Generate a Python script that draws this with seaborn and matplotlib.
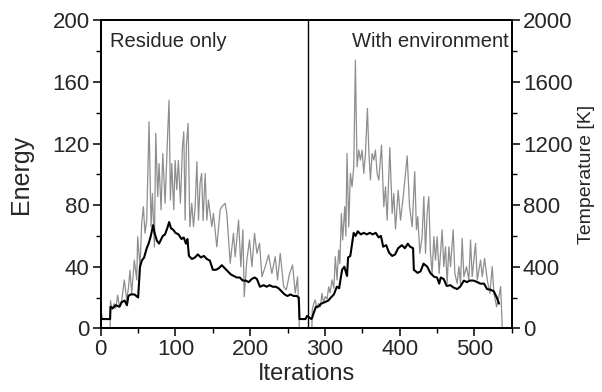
import matplotlib
matplotlib.use("Agg")
import matplotlib.pyplot as plt
from matplotlib.ticker import MultipleLocator
import seaborn as sns

# energy (black line), both runs in one trace
black_iter = [0, 1, 12.5, 13, 16, 20, 25, 28, 32, 35, 37, 40, 45, 50, 52.5, 55, 58, 61.5,
              64, 67, 70, 72, 75, 78, 80, 83, 86, 89, 91.5, 94, 97, 100, 104, 108, 111,
              114, 116, 118, 122, 126, 130, 134, 138, 142, 146, 150, 154, 158, 162, 166,
              170, 174, 178, 182, 186, 190, 194, 198, 202, 206, 209, 213, 218, 222, 226,
              230, 234, 238, 242, 246, 250, 254, 258, 262, 265, 266, 270, 274, 276, 279,
              282, 283, 285, 288, 291, 295, 300, 304.5, 308, 312, 316, 319, 323, 326,
              329.6, 331, 334, 338.5, 341, 344, 348, 352, 356, 360, 364, 368, 372, 375,
              378, 382, 386, 390, 394, 398, 403, 407, 411, 414, 418, 419, 424, 428, 432,
              437, 441, 446, 450, 453, 455, 459, 463, 468, 472, 477, 481, 486, 490, 494,
              499, 504, 508, 513, 517, 522, 526, 530, 533]
black_energy = [11, 6, 6, 14, 13, 15, 14, 17, 18, 15, 21, 22, 22, 20, 40, 44, 46, 52,
                55, 60, 67, 62, 57, 55, 57, 60, 61, 65, 69, 65, 64, 62, 61, 58, 59,
                55, 58, 47, 45, 46, 48, 46, 47, 45, 44, 38, 38, 39, 41, 39,
                37, 35, 34, 33, 33, 31, 31, 30, 32, 33, 32, 27, 28, 27, 28,
                27, 27, 26, 24, 22, 21, 22, 21, 21, 20, 6, 6, 6, 8, 7,
                6, 7, 10, 14, 14, 16, 17, 18, 20, 22, 27, 26, 38, 40,
                34, 46, 47, 62, 60, 63, 61, 62, 61, 62, 61, 62, 59, 60,
                53, 54, 49, 47, 48, 52, 54, 52, 55, 53, 52, 38, 36, 37, 42,
                40, 36, 33.5, 33, 29, 33, 32, 27.5, 28, 26.5, 25.5, 27, 31, 30, 31,
                31, 30, 29, 29, 25.5, 25, 24, 20, 16]

# temperature (grey line), run 1: residue only
grey1_iter = [12.5, 13, 15, 18, 20, 22.6, 25, 28, 31.5, 34.7, 37, 39.1, 41.4, 44.9,
              48.1, 49.4, 52.5, 54.8, 57, 59.2, 61.5, 64.6, 67.3, 69.1, 71.8, 73.6,
              76.2, 78, 80.7, 83, 86.1, 87.9, 89.7, 91.4, 93.2, 95, 97.7, 99.5, 101.7,
              103.9, 106.6, 109.3, 111.1, 112.9, 114.7, 116.9, 119.2, 121.8, 124.1,
              126.3, 128.6, 130.8, 133, 135, 137, 139.7, 142, 144.1, 148.6, 150.8,
              155.3, 159.8, 162, 166.5, 168.7, 173.2, 177.6, 179.9, 184.4, 187.5,
              190.2, 192, 195.5, 199.1, 202.3, 205.8, 209, 212.5, 215.7, 220.1, 224.6,
              229, 233.5, 236.6, 240.2, 244.7, 248.3, 252.7, 256.7, 260.3, 263.4, 265.7]
grey1_temp = [0, 180, 120, 160, 130, 216, 140, 180, 314, 184, 260, 377, 225, 443,
              314, 595, 400, 681, 790, 617, 703, 1342, 660, 876, 529, 1266,
              855, 1070, 769, 1135, 812, 1049, 1288, 1482, 833, 1070, 769, 1090, 900,
              1090, 812, 1178, 1277, 703, 1199, 1331, 660, 812, 660,
              790, 1082, 703, 950, 1006, 700, 1006, 703, 833, 660, 746,
              529, 769, 790, 812, 746, 422, 617, 465, 703, 400,
              639, 205, 443, 574, 400, 617, 487, 552, 335, 400, 476,
              356, 465, 314, 487, 271, 250, 356, 411, 229, 335, 10]

# temperature (grey line), run 2: with environment
grey2_iter = [282.6, 283, 285, 287.1, 289, 291.6, 294, 296, 298, 300.5, 303, 305, 307,
              309.5, 312, 313.9, 316.2, 318.4, 320, 322, 323.8, 326.5, 328, 329.6,
              331.9, 334.1, 336.3, 338.6, 340.8, 343, 345.3, 347.5, 349.7, 352, 354.2,
              356.9, 358.7, 360.9, 363.2, 365.4, 367.6, 369.9, 372.1, 375.7, 378.8,
              381.1, 383.3, 386.9, 390, 392.2, 394.5, 398.1, 401.2, 404.3, 407.9,
              410.1, 413.3, 416.8, 420.2, 422.5, 424.3, 427, 430.1, 432.4, 434.6,
              436.8, 439, 441.3, 443.5, 445.8, 448, 450.2, 452.9, 456.9, 459.1, 461.4,
              463.6, 465.9, 468.1, 471.7, 473.9, 477, 479.3, 481.5, 483.7, 486, 489.5,
              492.7, 494.9, 497.1, 501.6, 503.9, 508.3, 510.6, 513.7, 517.3, 520.8,
              524, 526.2, 529.8, 532.9, 535.2, 537.4]
grey2_temp = [0, 120, 160, 184, 130, 162, 140, 227, 170, 206, 190, 270, 230,
              314, 260, 465, 314, 509, 420, 746, 574, 790, 600, 1136,
              660, 1006, 919, 1049, 1742, 1049, 1158, 1093, 1158, 1006, 1136,
              1428, 1158, 963, 1136, 1093, 1158, 1006, 963, 1190, 790,
              919, 703, 1174, 746, 876, 644, 897, 703, 833, 1006,
              1120, 790, 660, 1017, 640, 725, 487, 595, 855, 487,
              746, 855, 487, 356, 595, 443, 595, 356, 640, 400, 529,
              292, 529, 400, 640, 356, 292, 400, 292, 584, 335, 400,
              314, 574, 335, 552, 314, 443, 335, 454, 314, 227,
              400, 227, 140, 206, 271, 0]

split_at = 278
panel_labels = ["Residue only", "With environment"]

sns.set_style("ticks")
plt.rcParams["font.family"] = ["Liberation Sans", "DejaVu Sans"]

fig = plt.figure(figsize=(6.02, 3.92), dpi=100)
ax = fig.add_axes([0.1674, 0.1625, 0.6826, 0.7855])
ax2 = ax.twinx()

sns.lineplot(x=grey1_iter, y=grey1_temp, ax=ax2, color="#8e8e8e", lw=0.9,
             estimator=None, sort=False)
sns.lineplot(x=grey2_iter, y=grey2_temp, ax=ax2, color="#8e8e8e", lw=0.9,
             estimator=None, sort=False)
sns.lineplot(x=black_iter, y=black_energy, ax=ax, color="black", lw=1.5,
             estimator=None, sort=False)

# energy axis drawn above the temperature axis
ax.set_zorder(ax2.get_zorder() + 1)
ax.patch.set_visible(False)

ax.axvline(split_at, color="black", lw=1.0)

ax.set_xlim(0, 550)
ax.set_ylim(0, 200)
ax2.set_ylim(0, 2000)
ax.set_xticks([0, 100, 200, 300, 400, 500])
ax.set_yticks([0, 40, 80, 120, 160, 200])
ax2.set_yticks([0, 400, 800, 1200, 1600, 2000])
ax.xaxis.set_minor_locator(MultipleLocator(50))
ax.yaxis.set_minor_locator(MultipleLocator(20))
ax2.yaxis.set_minor_locator(MultipleLocator(200))

for a in (ax, ax2):
    for s in a.spines.values():
        s.set_visible(True)
        s.set_linewidth(1.3)
        s.set_color("black")
    a.tick_params(which="major", length=6, width=1.1, labelsize=16, pad=2, color="black")
    a.tick_params(which="minor", length=3.5, width=1.0, color="black")

ax.set_xlabel("Iterations", fontsize=17, labelpad=2)
ax.set_ylabel("Energy", fontsize=18, labelpad=14)
ax2.set_ylabel("Temperature [K]", fontsize=14, labelpad=4)

ax.text(12, 186, panel_labels[0], fontsize=14.5, ha="left", va="center")
ax.text(546, 186, panel_labels[1], fontsize=14.5, ha="right", va="center")

fig.savefig("out.png", dpi=100, facecolor="white")
